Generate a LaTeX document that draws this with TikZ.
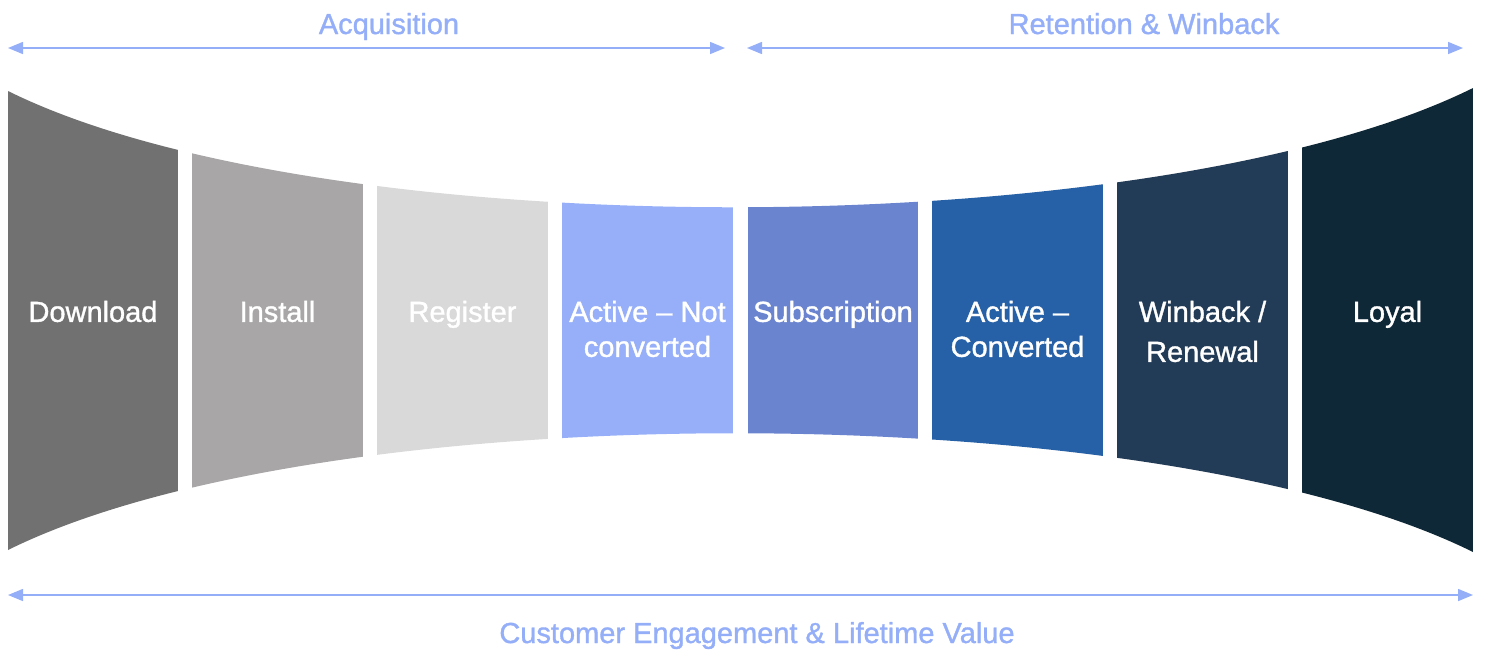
\documentclass[tikz,border=0pt]{standalone}
\usepackage{fontspec}
\setmainfont{Liberation Sans}[BoldFont={Liberation Sans},BoldFeatures={FakeBold=1.2}]
\usepackage{tikz}
\usetikzlibrary{positioning,arrows.meta,calc}
\definecolor{SpanBlue}{RGB}{148,174,248}
\definecolor{DownloadGray}{RGB}{112,113,112}
\definecolor{InstallGray}{RGB}{168,166,166}
\definecolor{RegisterGray}{RGB}{217,217,217}
\definecolor{ActiveBlue}{RGB}{150,175,248}
\definecolor{SubBlue}{RGB}{106,132,208}
\definecolor{ConvBlue}{RGB}{38,96,166}
\definecolor{WinNavy}{RGB}{34,59,86}
\definecolor{LoyalNavy}{RGB}{15,40,56}
\tikzset{
	stage/.style={text=white,font=\fontsize{16.5}{19.9}\selectfont\bfseries,align=center,anchor=north,inner sep=0pt},
	span/.style={SpanBlue,line width=0.3mm,{Triangle[length=3mm,width=2.4mm]}-{Triangle[length=3mm,width=2.4mm]}},
	spanlabel/.style={text=SpanBlue,font=\fontsize{16.5}{19.9}\selectfont\bfseries,anchor=base,inner sep=0pt}
}

\begin{document}
\begin{tikzpicture}[x=0.2mm,y=-0.2mm]
	\useasboundingbox (0,0) rectangle (1486,650);
	% funnel body, cut into eight stages
	\begin{scope}
	\clip (8,91) .. controls (325,248) and (1156,245) .. (1473,88) -- (1473,552) .. controls (1156,395) and (325,393) .. (8,550) -- cycle;
	\fill[DownloadGray] (8,0) rectangle (178,650);
	\fill[InstallGray] (192,0) rectangle (363,650);
	\fill[RegisterGray] (377,0) rectangle (548,650);
	\fill[ActiveBlue] (562,0) rectangle (733,650);
	\fill[SubBlue] (748,0) rectangle (918,650);
	\fill[ConvBlue] (932,0) rectangle (1103,650);
	\fill[WinNavy] (1117,0) rectangle (1288,650);
	\fill[LoyalNavy] (1302,0) rectangle (1473,650);
	\end{scope}
	\node[stage] (download) at (93,300.5) {Download};
	\node[stage] (install) at (277.5,300.5) {Install};
	\node[stage] (register) at (462.5,300.5) {Register};
	\node[stage] (activenot) at (647.5,300.5) {Active \textendash{} Not\\converted};
	\node[stage] (subscription) at (833,300.5) {Subscription};
	\node[stage] (activeconv) at (1017.5,300.5) {Active \textendash\\Converted};
	\node[stage] (winback) at (1202.5,300.5) {Winback /\\[1mm]Renewal};
	\node[stage] (loyal) at (1387.5,300.5) {Loyal};
	% spans over and under the funnel
	\coordinate (acqL) at (8,48);
	\coordinate (acqR) at (725,48);
	\coordinate (retL) at (747,48);
	\coordinate (retR) at (1463,48);
	\coordinate (valL) at (8,595);
	\coordinate (valR) at (1473,595);
	\draw[span] (acqL) -- (acqR);
	\draw[span] (retL) -- (retR);
	\draw[span] (valL) -- (valR);
	\node[spanlabel] (acquisition) at (389,34) {Acquisition};
	\node[spanlabel] (retention) at (1144,34) {Retention \& Winback};
	\node[spanlabel] (lifetime) at (757,643) {Customer Engagement \& Lifetime Value};
\end{tikzpicture}
\end{document}
